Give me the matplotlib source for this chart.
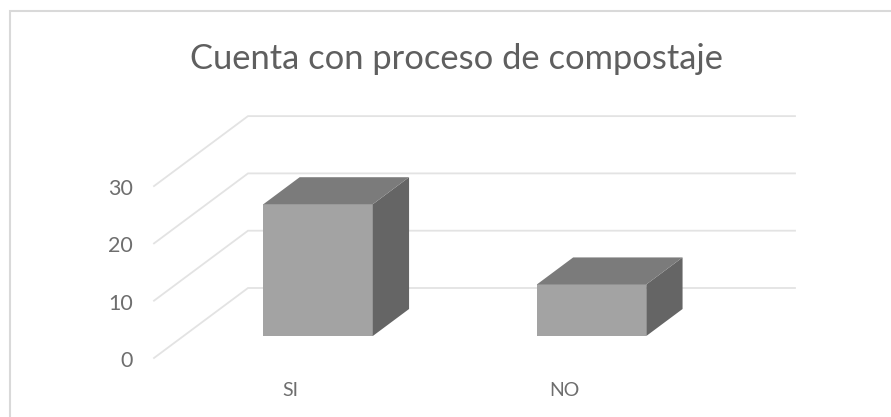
import matplotlib
matplotlib.use("Agg")
import matplotlib.pyplot as plt
from matplotlib.patches import Polygon, Rectangle

titulo = "Cuenta con proceso de compostaje"
categorias = ["SI", "NO"]
valores = [23, 9]
ticks = [0, 10, 20, 30]

W, H = 891, 417
# escala en pixeles
px_cat = 273.5
px_val = 5.73
x0, y0 = 154, 358
prof_x, prof_y = 94, 70

# barras dentro del piso
ancho = 0.4
z1, z2 = 0.314, 0.70

plt.rcParams["font.family"] = ["Lato", "DejaVu Sans"]

fig = plt.figure(figsize=(W / 100, H / 100), dpi=100)
ax = fig.add_axes([0, 0, 1, 1])
ax.set_xlim(-x0 / px_cat, (W - x0) / px_cat)
ax.set_ylim(-(H - y0) / px_val, y0 / px_val)
ax.axis("off")


def proy(x, v, z):
    # proyeccion oblicua a coordenadas de datos
    return (x + z * prof_x / px_cat, v + z * prof_y / px_val)


# marco, sale por la derecha y por abajo
ax.add_patch(Rectangle((10 / W, -0.1), 1, (H - 11) / H + 0.1, transform=ax.transAxes,
                       fc="white", ec="#d9d9d9", lw=1.5, zorder=0, clip_on=True))

n = len(categorias)
for t in ticks:
    xs, ys = zip(proy(0, t, 0), proy(0, t, 1), proy(n, t, 1))
    ax.plot(xs, ys, color="#e3e3e3", lw=1.3, zorder=1, solid_joinstyle="miter")
    ax.text(-21 / px_cat, t - 3 / px_val, str(t), ha="right", va="center", fontsize=15.5, color="#6e6e6e")

for i, (c, v) in enumerate(zip(categorias, valores)):
    a = i + 0.5 - ancho / 2 - 0.008
    b = a + ancho
    frente = [proy(a, 0, z1), proy(b, 0, z1), proy(b, v, z1), proy(a, v, z1)]
    lado = [proy(b, 0, z1), proy(b, 0, z2), proy(b, v, z2), proy(b, v, z1)]
    tapa = [proy(a, v, z1), proy(b, v, z1), proy(b, v, z2), proy(a, v, z2)]
    ax.add_patch(Polygon(frente, fc="#a3a3a3", ec="none", zorder=3))
    ax.add_patch(Polygon(lado, fc="#656565", ec="none", zorder=3))
    ax.add_patch(Polygon(tapa, fc="#7b7b7b", ec="none", zorder=3))
    ax.text(i + 0.5, -(390 - y0) / px_val, c, ha="center", va="center",
            fontsize=14, color="#6e6e6e")

ax.text(457 / W, 1 - 59 / H, titulo, transform=ax.transAxes, ha="center", va="center",
        fontsize=24.8, color="#5f5f5f")

fig.savefig("out.png", dpi=100)
